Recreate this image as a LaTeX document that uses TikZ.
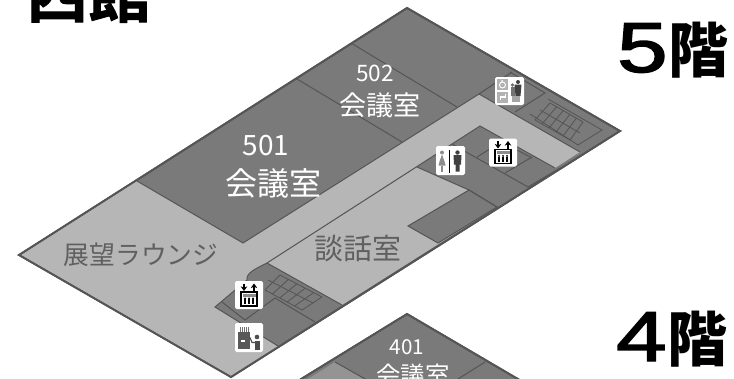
\documentclass[tikz,border=0pt]{standalone}
\usepackage{fontspec}
\usetikzlibrary{arrows.meta}
\newfontfamily\cjk{Noto Sans CJK JP}
\newfontfamily\cjkheavy[FakeBold=1.6]{Noto Sans CJK JP Bold}
\newfontfamily\numfont[FakeBold=2]{Liberation Sans}
\definecolor{darkroom}{HTML}{7A7A7A}
\definecolor{lightroom}{HTML}{B6B6B6}
\definecolor{edge}{HTML}{555555}
\definecolor{labeltxt}{HTML}{606060}
\tikzset{
  floorshape/.style={fill=darkroom,draw=edge,line width=1.4pt,line join=miter},
  hall/.style={fill=lightroom,draw=none},
  wall/.style={draw=edge,line width=.75pt},
  thin wall/.style={draw=edge,line width=.6pt},
  iconbox/.style={fill=white,draw=none,rounded corners=1.2pt},
  whitelabel/.style={text=white,font=\cjk,inner sep=0pt},
  greylabel/.style={text=labeltxt,font=\cjk,inner sep=0pt},
  headline/.style={text=black,inner sep=0pt,anchor=base west},
}
\newcommand\liftmark[2]{\begin{scope}[shift={(#1,#2)}]
  \path[iconbox] (-14,-14) rectangle (14,14);
  \draw[black,line width=.9pt,-{Stealth[length=3.5pt,width=5pt]}] (-5,-11.5) -- (-5,-4);
  \draw[black,line width=.9pt,-{Stealth[length=3.5pt,width=5pt]}] (5,-4) -- (5,-11.5);
  \draw[black,line width=.8pt,fill=white] (-8,-3) rectangle (8,11);
  \fill[black!45] (-6.5,-1.5) rectangle (6.5,1.5);
  \foreach \u in {-4,0,4}{\fill[black] (\u-1.4,4) rectangle (\u+1.4,9);\fill[black] (\u,3.4) circle (1.1);}
\end{scope}}
\begin{document}
\begin{tikzpicture}[x=.75pt,y=-.75pt]
\useasboundingbox (0,0) rectangle (734,378);
\clip (0,0) rectangle (734,378);
% 5F slab
\path[floorshape] (407,8) -- (620,131) -- (231,377) -- (19,255) -- cycle;
% lounge and corridor
\path[hall] (137,181) -- (243,243) -- (479,94) -- (580,152) -- (555,168) -- (480,126) -- (267,263)
  .. controls (255,269) and (246,273) .. (247,280) -- (215,307) -- (278,346) -- (231,376) -- (21,255) -- cycle;
% talk room
\path[hall] (267,263) -- (417,167) -- (469,190) -- (497,207) -- (342,305) -- cycle;
% dark box in talk room
\path[fill=darkroom,draw=edge,line width=.75pt] (408,226) -- (469,190) -- (497,207) -- (438,243) -- cycle;
% redraw outline
\path[draw=edge,line width=1.4pt] (407,8) -- (620,131) -- (231,377) -- (19,255) -- cycle;
% walls
\draw[wall] (137,181) -- (243,243) -- (479,94) -- (580,152);
\draw[wall] (297,79) -- (402,142);
\draw[wall] (351,43) -- (457,107);
\draw[wall] (479,94) -- (512,72);
\draw[wall] (510,72) -- (545,93) -- (515,112);
\draw[wall] (555,168) -- (480,126) -- (267,263) .. controls (255,269) and (246,273) .. (247,280) -- (215,307) -- (278,346);
\draw[wall] (417,167) -- (469,190) -- (497,207);
\draw[wall] (452,144) -- (528,187) -- (560,168);
\draw[wall] (477,157) -- (493,147);
\draw[wall] (505,173) -- (532,157);
\draw[wall] (517,150) -- (532,158);
\draw[wall] (267,263) -- (342,305);
\draw[wall] (222,302) -- (245,320) -- (275,298) -- (315,322);
% upper stairs
\draw[thin wall] (530,114) -- (578,145) -- (602,130) -- (548,99);
\draw[thin wall] (535,120) -- (570,140);
\draw[thin wall] (540,110) -- (580,133);
\draw[thin wall] (550,103) -- (583,122);
\foreach \t in {0,1,...,5}{
  \draw[thin wall] ({535+\t*7},{120+\t*4}) -- ({550+\t*6.6},{103+\t*3.8});}
% lower stairs
\draw[thin wall] (265,290) -- (302,310);
\draw[thin wall] (268,280) -- (313,303);
\draw[thin wall] (280,275) -- (322,297);
\foreach \t in {0,1,...,5}{
  \draw[thin wall] ({265+\t*7.4},{290+\t*4}) -- ({280+\t*8.4},{275+\t*4.4});}
% 4F slab
\path[floorshape] (407,314) -- (540,392) -- (407,470) -- (280,392) -- cycle;
\path[fill=black!42] (335,362) -- (372,384) -- (300,384) -- cycle;
\draw[wall] (335,362) -- (367,380);
\draw[wall] (485,362) -- (458,379);
\path[draw=edge,line width=1.4pt] (280,392) -- (407,314) -- (540,392);
% labels
\node[whitelabel,font=\cjk\fontsize{21}{21}\selectfont] (n501) at (266,146) {501};
\node[whitelabel,font=\cjk\fontsize{24}{24}\selectfont] (r501) at (273,183) {会議室};
\node[whitelabel,font=\cjk\fontsize{17}{17}\selectfont] (n502) at (375,73) {502};
\node[whitelabel,font=\cjk\fontsize{20.3}{20.3}\selectfont] (r502) at (380,105) {会議室};
\node[greylabel,font=\cjk\fontsize{19.3}{19.3}\selectfont] (lounge) at (141,255) {展望ラウンジ};
\node[greylabel,font=\cjk\fontsize{21.7}{21.7}\selectfont] (talk) at (358,249) {談話室};
\node[whitelabel,font=\cjk\fontsize{15.5}{15.5}\selectfont] (n401) at (407,347) {401};
\node[whitelabel,font=\cjk\fontsize{18.3}{18.3}\selectfont] (r401) at (413,375) {会議室};
% headings
\node[headline,font=\cjkheavy\fontsize{46.5}{46.5}\selectfont] (west) at (26,17) {西館};
\node[headline] (f5) at (617,72) {{\numfont\fontsize{53}{53}\selectfont\scalebox{1.28}[1]{5}}{\cjk\bfseries\fontsize{45}{45}\selectfont\hspace{1pt}階}};
\node[headline] (f4) at (616,361) {{\numfont\fontsize{53}{53}\selectfont\scalebox{1.28}[1]{4}}{\cjk\bfseries\fontsize{45}{45}\selectfont\hspace{1pt}階}};
% icons
\liftmark{249}{295}
\liftmark{503}{152.5}
% toilet
\begin{scope}[shift={(450.5,160.5)}]
  \path[iconbox] (-14.5,-14.5) rectangle (14.5,14.5);
  \fill[black!45] (-8.5,-8) circle (2);
  \fill[black!45] (-8.5,-6) -- (-6,1) -- (-5,5) -- (-12,5) -- (-11,1) -- cycle;
  \fill[black!45] (-9.5,5) rectangle (-7.5,11);
  \fill[black] (-1.4,-11) rectangle (-.2,12);
  \fill[black!75] (7,-8) circle (2.2);
  \fill[black!75] (3,-5.5) -- (11,-5.5) -- (10.5,4) -- (9,4) -- (9,11) -- (5,11) -- (5,4) -- (3.5,4) -- cycle;
\end{scope}
% accessible toilet
\begin{scope}[shift={(509.5,91)}]
  \path[iconbox] (-14.5,-14) rectangle (14.5,14);
  \fill[black!30] (-12.5,-12) rectangle (-1.5,-1);
  \fill[black!30] (-12.5,1) rectangle (-1.5,12);
  \draw[white,line width=.7pt] (-7,-6) circle (3);
  \fill[white] (-7.5,-10) circle (1);
  \draw[white,line width=1pt] (-9,9) -- (-9,6) -- (-4,6) -- (-4,3);
  \fill[black!55] (3,-6) circle (1.8);
  \fill[black!55] (1,-4) rectangle (5,5);
  \fill[black!75] (8.5,-9) circle (2);
  \fill[black!75] (5,-6.5) -- (12,-6.5) -- (11,5) -- (6,5) -- cycle;
  \fill[black!35] (2,5) rectangle (10,11);
\end{scope}
% service counter
\begin{scope}[shift={(249,337.5)}]
  \path[iconbox] (-14,-14.5) rectangle (14,14.5);
  \foreach \u in {-9,-7,-5,-3,-1}{\fill[black!55] (\u,-10.5) rectangle (\u+1,-6);}
  \fill[black!65] (-11.5,-6) rectangle (0.5,11);
  \fill[white] (-8.5,2) rectangle (-4,4);
  \fill[black!70] (8,-0.5) circle (2.3);
  \fill[black!70] (5.5,3) rectangle (11,12);
  \draw[black!70,line width=.8pt] (1,0) -- (3,5) -- (6,5);
\end{scope}
\end{tikzpicture}
\end{document}
